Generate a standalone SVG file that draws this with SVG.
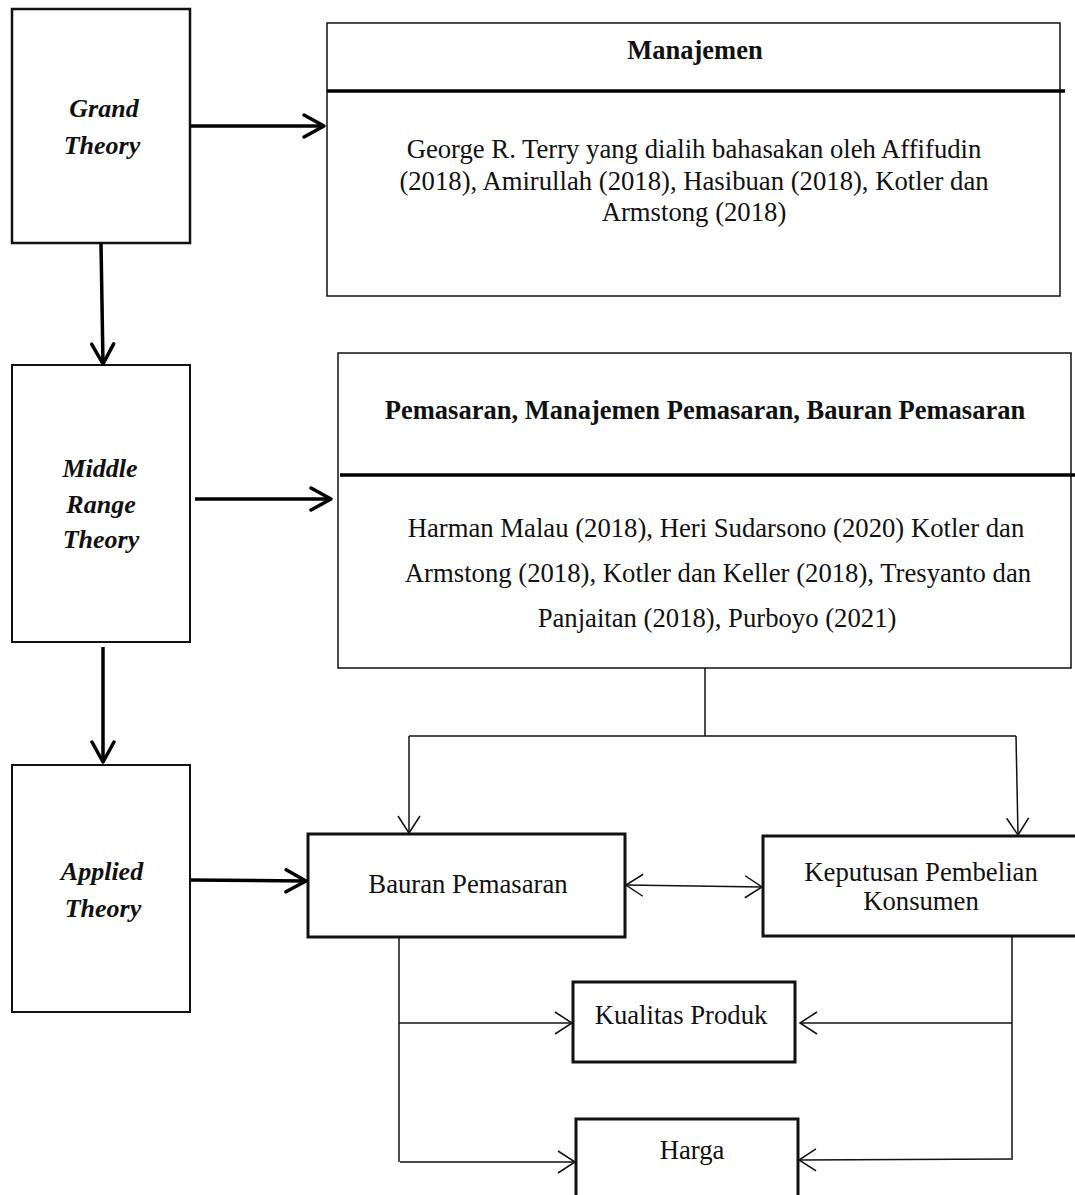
<svg xmlns="http://www.w3.org/2000/svg" width="1075" height="1195" viewBox="0 0 1075 1195">
<style>
.bg{fill:#fff}
.box{fill:#fff;stroke:#111}
.lbl{font-family:"Liberation Serif","Times New Roman",serif;font-size:26px;font-weight:bold;font-style:italic;fill:#111;text-anchor:middle}
.ttl{font-family:"Liberation Serif","Times New Roman",serif;font-size:26.5px;font-weight:bold;fill:#111;text-anchor:middle}
.txt{font-family:"Liberation Serif","Times New Roman",serif;font-size:26.7px;fill:#111;text-anchor:middle}
.thick{fill:none;stroke:#000;stroke-width:3.5}
.thin{fill:none;stroke:#111;stroke-width:1.5}
.div{stroke:#000;stroke-width:3.5}
</style>
<defs>
<marker id="hk" markerUnits="userSpaceOnUse" markerWidth="30" markerHeight="30" viewBox="-25 -15 30 30" refX="0" refY="0" orient="auto" overflow="visible">
<path d="M-20,-11 L0,0 L-20,11" fill="none" stroke="#000" stroke-width="3.5" stroke-linejoin="round" stroke-linecap="round"/>
</marker>
<marker id="hn" markerUnits="userSpaceOnUse" markerWidth="30" markerHeight="30" viewBox="-25 -15 30 30" refX="0" refY="0" orient="auto-start-reverse" overflow="visible">
<path d="M-17,-11 L0,0 L-17,11" fill="none" stroke="#111" stroke-width="1.5"/>
</marker>
</defs>
<rect class="bg" x="0" y="0" width="1075" height="1195"/>

<g id="grand-theory">
<rect class="box" x="12" y="9" width="178" height="234" stroke-width="2.5"/>
<text class="lbl" x="104" y="117">Grand</text>
<text class="lbl" x="102" y="154">Theory</text>
</g>

<g id="middle-range-theory">
<rect class="box" x="12" y="365" width="178" height="277" stroke-width="2"/>
<text class="lbl" x="100" y="477">Middle</text>
<text class="lbl" x="101" y="513">Range</text>
<text class="lbl" x="101" y="548">Theory</text>
</g>

<g id="applied-theory">
<rect class="box" x="12" y="765" width="178" height="247" stroke-width="2"/>
<text class="lbl" x="102" y="880">Applied</text>
<text class="lbl" x="103" y="917">Theory</text>
</g>

<g id="manajemen">
<rect class="box" x="327" y="23" width="733" height="273" stroke-width="1.5"/>
<line class="div" x1="327" y1="91" x2="1065" y2="91"/>
<text class="ttl" x="695" y="59">Manajemen</text>
<text class="txt" x="694" y="158">George R. Terry yang dialih bahasakan oleh Affifudin</text>
<text class="txt" x="694" y="190">(2018), Amirullah (2018), Hasibuan (2018), Kotler dan</text>
<text class="txt" x="694" y="221">Armstong (2018)</text>
</g>

<g id="pemasaran">
<rect class="box" x="338" y="353" width="733" height="315" stroke-width="1.5"/>
<line class="div" x1="340" y1="475" x2="1078" y2="475"/>
<text class="ttl" x="705" y="419">Pemasaran, Manajemen Pemasaran, Bauran Pemasaran</text>
<text class="txt" x="716" y="537">Harman Malau (2018), Heri Sudarsono (2020) Kotler dan</text>
<text class="txt" x="718" y="582">Armstong (2018), Kotler dan Keller (2018), Tresyanto dan</text>
<text class="txt" x="717" y="627">Panjaitan (2018), Purboyo (2021)</text>
</g>

<g id="bauran-pemasaran">
<rect class="box" x="308" y="834" width="317" height="103" stroke-width="3"/>
<text class="txt" x="468" y="893">Bauran Pemasaran</text>
</g>

<g id="keputusan-pembelian">
<rect class="box" x="763" y="836" width="330" height="100" stroke-width="3"/>
<text class="txt" x="921" y="881">Keputusan Pembelian</text>
<text class="txt" x="921" y="910">Konsumen</text>
</g>

<g id="kualitas-produk">
<rect class="box" x="573" y="982" width="222" height="80" stroke-width="3"/>
<text class="txt" x="681" y="1024">Kualitas Produk</text>
</g>

<g id="harga">
<rect class="box" x="576" y="1119" width="222" height="90" stroke-width="3"/>
<text class="txt" x="692" y="1159">Harga</text>
</g>

<g id="connectors">
<line class="thick" x1="190" y1="126" x2="324" y2="126" marker-end="url(#hk)"/>
<line class="thick" x1="101" y1="243" x2="103" y2="364" marker-end="url(#hk)"/>
<line class="thick" x1="195" y1="499" x2="331" y2="499" marker-end="url(#hk)"/>
<line class="thick" x1="103" y1="647" x2="103" y2="762" marker-end="url(#hk)"/>
<line class="thick" x1="190" y1="880" x2="306" y2="881" marker-end="url(#hk)"/>

<polyline class="thin" points="705,668 705,736"/>
<polyline class="thin" points="409,736 1016,736"/>
<line class="thin" x1="409" y1="736" x2="409" y2="833" marker-end="url(#hn)"/>
<line class="thin" x1="1016" y1="736" x2="1018" y2="835" marker-end="url(#hn)"/>
<line class="thin" x1="626" y1="885" x2="762" y2="887" marker-start="url(#hn)" marker-end="url(#hn)"/>

<polyline class="thin" points="399,937 399,1162"/>
<line class="thin" x1="399" y1="1023" x2="572" y2="1023" marker-end="url(#hn)"/>
<line class="thin" x1="400" y1="1162" x2="575" y2="1162" marker-end="url(#hn)"/>
<polyline class="thin" points="1012,936 1012,1160"/>
<line class="thin" x1="1012" y1="1023" x2="800" y2="1023" marker-end="url(#hn)"/>
<line class="thin" x1="1011" y1="1159" x2="799" y2="1160" marker-end="url(#hn)"/>
</g>
</svg>
